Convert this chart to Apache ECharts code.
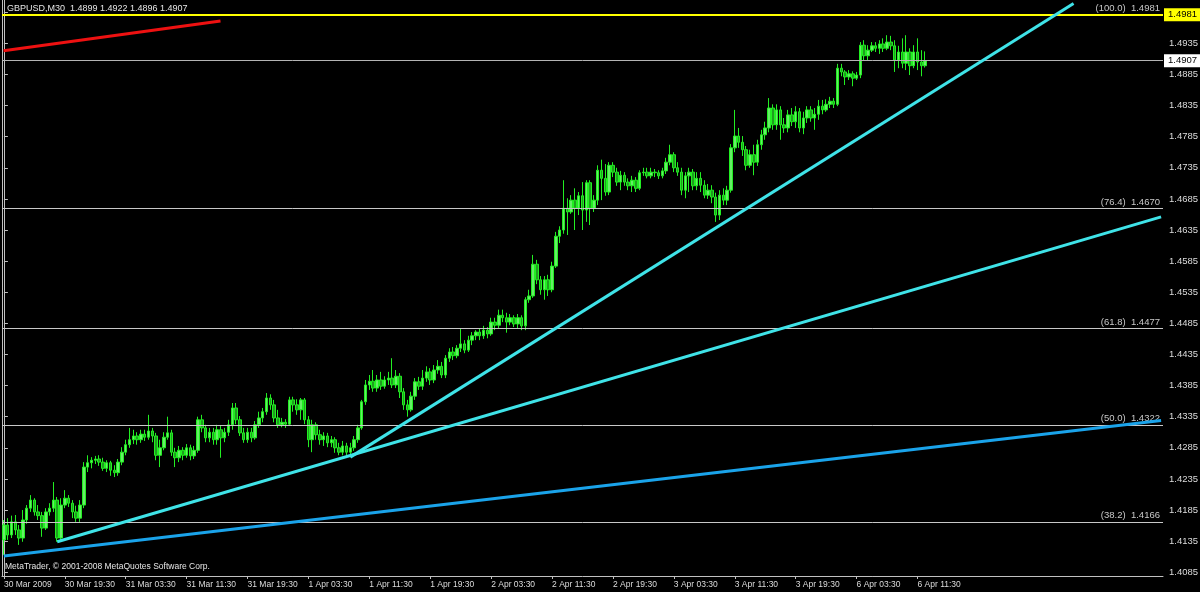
<!DOCTYPE html>
<html><head><meta charset="utf-8">
<script src="https://cdn.jsdelivr.net/npm/echarts@6/dist/echarts.min.js"></script>
<style>html,body{margin:0;padding:0;background:#000;}#c{width:1200px;height:592px;}</style>
</head><body><div id="c"></div>
<script>
const symbol = 'GBPUSD,M30';
const copyright = 'MetaTrader, \u00a9 2001-2008 MetaQuotes Software Corp.';

const opens = [
1.4137,1.4161,1.4145,1.4166,1.4153,1.4140,1.4169,1.4188,1.4201,1.4182,
1.4176,1.4156,1.4182,1.4188,1.4201,1.4140,1.4193,1.4204,1.4196,1.4182,
1.4172,1.4193,1.4254,1.4261,1.4265,1.4267,1.4262,1.4252,1.4261,1.4249,
1.4245,1.4262,1.4278,1.4290,1.4298,1.4304,1.4298,1.4307,1.4302,1.4312,
1.4304,1.4273,1.4285,1.4302,1.4309,1.4278,1.4269,1.4281,1.4273,1.4285,
1.4272,1.4281,1.4330,1.4317,1.4301,1.4310,1.4298,1.4314,1.4301,1.4310,
1.4322,1.4349,1.4330,1.4309,1.4298,1.4310,1.4301,1.4322,1.4333,1.4343,
1.4365,1.4354,1.4333,1.4322,1.4326,1.4323,1.4362,1.4354,1.4346,1.4362,
1.4330,1.4298,1.4322,1.4306,1.4298,1.4304,1.4293,1.4298,1.4285,1.4278,
1.4288,1.4278,1.4285,1.4298,1.4317,1.4359,1.4386,1.4392,1.4381,1.4394,
1.4384,1.4394,1.4397,1.4386,1.4400,1.4375,1.4354,1.4346,1.4368,1.4391,
1.4384,1.4397,1.4407,1.4394,1.4410,1.4416,1.4402,1.4429,1.4439,1.4433,
1.4445,1.4452,1.4442,1.4458,1.4465,1.4471,1.4465,1.4474,1.4468,1.4487,
1.4482,1.4498,1.4494,1.4487,1.4494,1.4484,1.4494,1.4481,1.4523,1.4529,
1.4580,1.4555,1.4539,1.4555,1.4539,1.4577,1.4625,1.4635,1.4670,1.4664,
1.4683,1.4670,1.4690,1.4667,1.4711,1.4670,1.4683,1.4731,1.4718,1.4696,
1.4739,1.4728,1.4712,1.4723,1.4712,1.4706,1.4715,1.4702,1.4727,1.4728,
1.4722,1.4728,1.4727,1.4722,1.4730,1.4744,1.4756,1.4735,1.4728,1.4699,
1.4722,1.4728,1.4706,1.4718,1.4707,1.4691,1.4699,1.4688,1.4659,1.4691,
1.4683,1.4699,1.4767,1.4786,1.4776,1.4764,1.4739,1.4756,1.4744,1.4772,
1.4788,1.4799,1.4831,1.4804,1.4828,1.4804,1.4799,1.4820,1.4809,1.4825,
1.4799,1.4815,1.4828,1.4815,1.4821,1.4834,1.4828,1.4837,1.4842,1.4837,
1.4895,1.4889,1.4881,1.4886,1.4879,1.4884,1.4932,1.4915,1.4924,1.4931,
1.4927,1.4934,1.4927,1.4937,1.4931,1.4908,1.4921,1.4903,1.4921,1.4899,
1.4921,1.4905,1.4899];

const closes = [
1.4161,1.4145,1.4166,1.4153,1.4140,1.4169,1.4188,1.4201,1.4182,1.4176,
1.4156,1.4182,1.4188,1.4201,1.4140,1.4193,1.4204,1.4196,1.4182,1.4172,
1.4193,1.4254,1.4261,1.4265,1.4267,1.4262,1.4252,1.4261,1.4249,1.4245,
1.4262,1.4278,1.4290,1.4298,1.4304,1.4298,1.4307,1.4302,1.4312,1.4304,
1.4273,1.4285,1.4302,1.4309,1.4278,1.4269,1.4281,1.4273,1.4285,1.4272,
1.4281,1.4330,1.4317,1.4301,1.4310,1.4298,1.4314,1.4301,1.4310,1.4322,
1.4349,1.4330,1.4309,1.4298,1.4310,1.4301,1.4322,1.4333,1.4343,1.4365,
1.4354,1.4333,1.4322,1.4326,1.4323,1.4362,1.4354,1.4346,1.4362,1.4330,
1.4298,1.4322,1.4306,1.4298,1.4304,1.4293,1.4298,1.4285,1.4278,1.4288,
1.4278,1.4285,1.4298,1.4317,1.4359,1.4386,1.4392,1.4381,1.4394,1.4384,
1.4394,1.4397,1.4386,1.4400,1.4375,1.4354,1.4346,1.4368,1.4391,1.4384,
1.4397,1.4407,1.4394,1.4410,1.4416,1.4402,1.4429,1.4439,1.4433,1.4445,
1.4452,1.4442,1.4458,1.4465,1.4471,1.4465,1.4474,1.4468,1.4487,1.4482,
1.4498,1.4494,1.4487,1.4494,1.4484,1.4494,1.4481,1.4523,1.4529,1.4580,
1.4555,1.4539,1.4555,1.4539,1.4577,1.4625,1.4635,1.4670,1.4664,1.4683,
1.4670,1.4690,1.4667,1.4711,1.4670,1.4683,1.4731,1.4718,1.4696,1.4739,
1.4728,1.4712,1.4723,1.4712,1.4706,1.4715,1.4702,1.4727,1.4728,1.4722,
1.4728,1.4727,1.4722,1.4730,1.4744,1.4756,1.4735,1.4728,1.4699,1.4722,
1.4728,1.4706,1.4718,1.4707,1.4691,1.4699,1.4688,1.4659,1.4691,1.4683,
1.4699,1.4767,1.4786,1.4776,1.4764,1.4739,1.4756,1.4744,1.4772,1.4788,
1.4799,1.4831,1.4804,1.4828,1.4804,1.4799,1.4820,1.4809,1.4825,1.4799,
1.4815,1.4828,1.4815,1.4821,1.4834,1.4828,1.4837,1.4842,1.4837,1.4895,
1.4889,1.4881,1.4886,1.4879,1.4884,1.4932,1.4915,1.4924,1.4931,1.4927,
1.4934,1.4927,1.4937,1.4931,1.4908,1.4921,1.4903,1.4921,1.4899,1.4921,
1.4905,1.4899,1.4907];

const lows = [
1.4113,1.4137,1.4140,1.4145,1.4129,1.4134,1.4163,1.4182,1.4176,1.4169,
1.4142,1.4153,1.4176,1.4182,1.4134,1.4137,1.4188,1.4190,1.4172,1.4166,
1.4166,1.4188,1.4246,1.4252,1.4259,1.4256,1.4248,1.4246,1.4240,1.4238,
1.4240,1.4257,1.4273,1.4285,1.4291,1.4290,1.4293,1.4296,1.4298,1.4294,
1.4265,1.4254,1.4281,1.4298,1.4272,1.4254,1.4262,1.4265,1.4269,1.4265,
1.4267,1.4277,1.4310,1.4294,1.4294,1.4290,1.4290,1.4269,1.4294,1.4304,
1.4314,1.4323,1.4304,1.4293,1.4293,1.4294,1.4298,1.4317,1.4326,1.4338,
1.4346,1.4326,1.4317,1.4318,1.4317,1.4320,1.4343,1.4338,1.4330,1.4323,
1.4286,1.4278,1.4298,1.4290,1.4288,1.4286,1.4286,1.4277,1.4273,1.4273,
1.4273,1.4270,1.4280,1.4293,1.4314,1.4354,1.4378,1.4375,1.4375,1.4378,
1.4380,1.4386,1.4381,1.4381,1.4365,1.4346,1.4335,1.4343,1.4362,1.4378,
1.4378,1.4391,1.4386,1.4389,1.4404,1.4397,1.4397,1.4423,1.4426,1.4429,
1.4439,1.4437,1.4439,1.4450,1.4458,1.4458,1.4460,1.4461,1.4465,1.4474,
1.4477,1.4487,1.4470,1.4482,1.4479,1.4477,1.4474,1.4474,1.4518,1.4526,
1.4548,1.4531,1.4523,1.4529,1.4535,1.4574,1.4614,1.4629,1.4627,1.4661,
1.4635,1.4659,1.4635,1.4648,1.4643,1.4664,1.4675,1.4683,1.4690,1.4691,
1.4720,1.4706,1.4699,1.4706,1.4699,1.4696,1.4696,1.4699,1.4722,1.4718,
1.4718,1.4720,1.4717,1.4718,1.4725,1.4739,1.4728,1.4722,1.4691,1.4686,
1.4696,1.4699,1.4699,1.4696,1.4686,1.4685,1.4678,1.4648,1.4651,1.4675,
1.4675,1.4695,1.4760,1.4767,1.4754,1.4731,1.4735,1.4723,1.4738,1.4764,
1.4780,1.4792,1.4796,1.4796,1.4780,1.4791,1.4792,1.4802,1.4799,1.4792,
1.4789,1.4807,1.4809,1.4796,1.4812,1.4821,1.4825,1.4831,1.4831,1.4834,
1.4882,1.4868,1.4876,1.4866,1.4876,1.4879,1.4908,1.4908,1.4921,1.4921,
1.4918,1.4921,1.4924,1.4924,1.4889,1.4895,1.4895,1.4892,1.4884,1.4895,
1.4892,1.4882,1.4896];

const highs = [
1.4169,1.4172,1.4176,1.4177,1.4161,1.4185,1.4193,1.4209,1.4204,1.4193,
1.4182,1.4188,1.4196,1.4230,1.4206,1.4204,1.4217,1.4209,1.4201,1.4192,
1.4201,1.4262,1.4273,1.4270,1.4272,1.4273,1.4269,1.4265,1.4264,1.4257,
1.4267,1.4286,1.4298,1.4317,1.4314,1.4310,1.4314,1.4314,1.4338,1.4317,
1.4309,1.4298,1.4310,1.4335,1.4314,1.4285,1.4288,1.4286,1.4291,1.4290,
1.4288,1.4335,1.4338,1.4322,1.4317,1.4317,1.4322,1.4320,1.4317,1.4330,
1.4357,1.4357,1.4336,1.4317,1.4317,1.4317,1.4328,1.4343,1.4349,1.4373,
1.4371,1.4362,1.4346,1.4333,1.4331,1.4367,1.4367,1.4363,1.4365,1.4365,
1.4336,1.4330,1.4326,1.4314,1.4310,1.4309,1.4304,1.4302,1.4293,1.4296,
1.4293,1.4293,1.4304,1.4322,1.4362,1.4394,1.4402,1.4410,1.4402,1.4407,
1.4400,1.4407,1.4429,1.4410,1.4405,1.4381,1.4362,1.4375,1.4397,1.4399,
1.4410,1.4416,1.4413,1.4418,1.4426,1.4423,1.4434,1.4445,1.4447,1.4450,
1.4477,1.4458,1.4465,1.4471,1.4474,1.4477,1.4481,1.4479,1.4494,1.4494,
1.4507,1.4507,1.4502,1.4500,1.4498,1.4500,1.4498,1.4527,1.4539,1.4595,
1.4587,1.4561,1.4561,1.4563,1.4584,1.4632,1.4641,1.4715,1.4686,1.4691,
1.4702,1.4696,1.4712,1.4715,1.4715,1.4691,1.4739,1.4748,1.4741,1.4744,
1.4744,1.4735,1.4730,1.4728,1.4718,1.4722,1.4720,1.4731,1.4735,1.4735,
1.4735,1.4733,1.4731,1.4735,1.4751,1.4772,1.4760,1.4744,1.4735,1.4728,
1.4735,1.4733,1.4728,1.4728,1.4715,1.4709,1.4707,1.4695,1.4699,1.4702,
1.4706,1.4773,1.4828,1.4799,1.4786,1.4770,1.4764,1.4772,1.4780,1.4796,
1.4809,1.4847,1.4837,1.4837,1.4834,1.4815,1.4828,1.4831,1.4834,1.4831,
1.4825,1.4834,1.4834,1.4831,1.4844,1.4844,1.4845,1.4849,1.4847,1.4902,
1.4902,1.4892,1.4892,1.4890,1.4889,1.4937,1.4940,1.4932,1.4937,1.4937,
1.4940,1.4943,1.4948,1.4947,1.4940,1.4931,1.4943,1.4948,1.4927,1.4932,
1.4943,1.4924,1.4922];

const xTickLabels = ['30 Mar 2009','30 Mar 19:30','31 Mar 03:30','31 Mar 11:30','31 Mar 19:30',
  '1 Apr 03:30','1 Apr 11:30','1 Apr 19:30','2 Apr 03:30','2 Apr 11:30','2 Apr 19:30',
  '3 Apr 03:30','3 Apr 11:30','3 Apr 19:30','6 Apr 03:30','6 Apr 11:30'];
const barsPerTick = 16;
const totalSlots = 305;

const priceTicks = [1.4085,1.4135,1.4185,1.4235,1.4285,1.4335,1.4385,1.4435,1.4485,
  1.4535,1.4585,1.4635,1.4685,1.4735,1.4785,1.4835,1.4885,1.4935,1.4985];
const yMin = 1.40790, yMax = 1.50046;

const fibLevels = ['100.0','76.4','61.8','50.0','38.2'];
const fibPrices = [1.4981, 1.4670, 1.4477, 1.4322, 1.4166];

const redLine   = [[-0.1, 1.4923], [56.9, 1.4971]];
const steepLine = [[91, 1.4270], [281, 1.4999]];
const fanLine   = [[14, 1.4134], [304, 1.4656]];
const blueLine  = [[0, 1.4111], [304, 1.4329]];

const FONT = '"Liberation Sans", Arial, sans-serif';
const chart = echarts.init(document.getElementById('c'));
const candles = opens.map((o, i) => [o, closes[i], lows[i], highs[i]]);
const categories = Array.from({length: totalSlots}, (_, i) => String(i));
const last = opens.length - 1;
const header = symbol + '  ' + [opens[last], highs[last], lows[last], closes[last]].map(v => v.toFixed(4)).join(' ');
const isTick = (idx) => idx % barsPerTick === 0 && idx / barsPerTick < xTickLabels.length;
const bid = closes[last];

const fibMarks = fibPrices.map((p, k) => ({
  yAxis: p,
  lineStyle: {color: k === 0 ? '#ffff00' : '#c8c8c8', width: k === 0 ? 2 : 1, type: 'solid'},
  label: {show: true, position: 'insideEndTop', formatter: '(' + fibLevels[k] + ')  ' + p.toFixed(4),
    color: '#c8c8c8', fontSize: 9.5, fontFamily: FONT, distance: [3, 1]}
}));
const tagMarks = [
  {yAxis: fibPrices[0], lineStyle: {color: 'rgba(0,0,0,0)', width: 0},
   label: {show: true, position: 'end', formatter: fibPrices[0].toFixed(4), backgroundColor: '#ffff00',
     color: '#000', padding: [2, 6, 1, 4], distance: 1, fontSize: 9.5, fontFamily: FONT}},
  {yAxis: bid, lineStyle: {color: '#b4b4b4', width: 1, type: 'solid'},
   label: {show: true, position: 'end', formatter: bid.toFixed(4), backgroundColor: '#ffffff',
     color: '#000', padding: [2, 6, 1, 4], distance: 1, fontSize: 9.5, fontFamily: FONT}}
];

const trend = (data, color, width) => ({
  type: 'line', xAxisIndex: 1, yAxisIndex: 0, data: data, symbol: 'none', clip: true,
  silent: true, z: 4, lineStyle: {color: color, width: width}
});

chart.setOption({
  backgroundColor: '#000000',
  animation: false,
  title: [
    {text: header, left: 7, top: 4, padding: 0,
     textStyle: {color: '#e6e6e6', fontSize: 9, fontWeight: 'normal', fontFamily: FONT}},
    {text: copyright, left: 5, top: 562, padding: 0,
     textStyle: {color: '#e6e6e6', fontSize: 8.5, fontWeight: 'normal', fontFamily: FONT}}
  ],
  grid: {left: 2, right: 37, top: 0, bottom: 16, containLabel: false, outerBoundsMode: 'none'},
  xAxis: [
    {type: 'category', data: categories, boundaryGap: true,
     axisLine: {show: true, lineStyle: {color: '#c0c0c0'}},
     axisTick: {show: true, alignWithLabel: true, interval: (i) => isTick(i), length: 3, lineStyle: {color: '#c0c0c0'}},
     axisLabel: {show: true, interval: (i) => isTick(i), formatter: (v, i) => xTickLabels[i / barsPerTick],
       color: '#dcdcdc', fontSize: 8.5, fontFamily: FONT, align: 'left', margin: 4},
     splitLine: {show: false}},
    {type: 'value', min: -0.5, max: totalSlots - 0.5, show: false}
  ],
  yAxis: [
    {type: 'value', position: 'right', min: yMin, max: yMax,
     axisLine: {show: true, lineStyle: {color: '#c0c0c0'}},
     axisTick: {show: true, customValues: priceTicks, length: 4, lineStyle: {color: '#c0c0c0'}},
     axisLabel: {show: true, customValues: priceTicks, formatter: (v) => v.toFixed(4),
       color: '#dcdcdc', fontSize: 9.5, fontFamily: FONT, margin: 6},
     splitLine: {show: false}},
    {type: 'value', position: 'left', min: yMin, max: yMax,
     axisLine: {show: true, lineStyle: {color: '#c0c0c0'}},
     axisTick: {show: false}, axisLabel: {show: false}, splitLine: {show: false}}
  ],
  series: [
    {type: 'candlestick', xAxisIndex: 0, yAxisIndex: 0, data: candles, barWidth: 3, z: 2,
     itemStyle: {color: '#66ee66', color0: '#1e9e1e', borderColor: '#22ee22', borderColor0: '#22ee22', borderWidth: 1},
     markLine: {silent: true, symbol: ['none', 'none'], animation: false, precision: 4, z: 3,
       data: fibMarks.concat(tagMarks)}},
    trend(redLine, '#ee1111', 3),
    trend(steepLine, '#3fe3e8', 3),
    trend(fanLine, '#3fe3e8', 3),
    trend(blueLine, '#1aa3ea', 3)
  ]
});
</script>
</body></html>
